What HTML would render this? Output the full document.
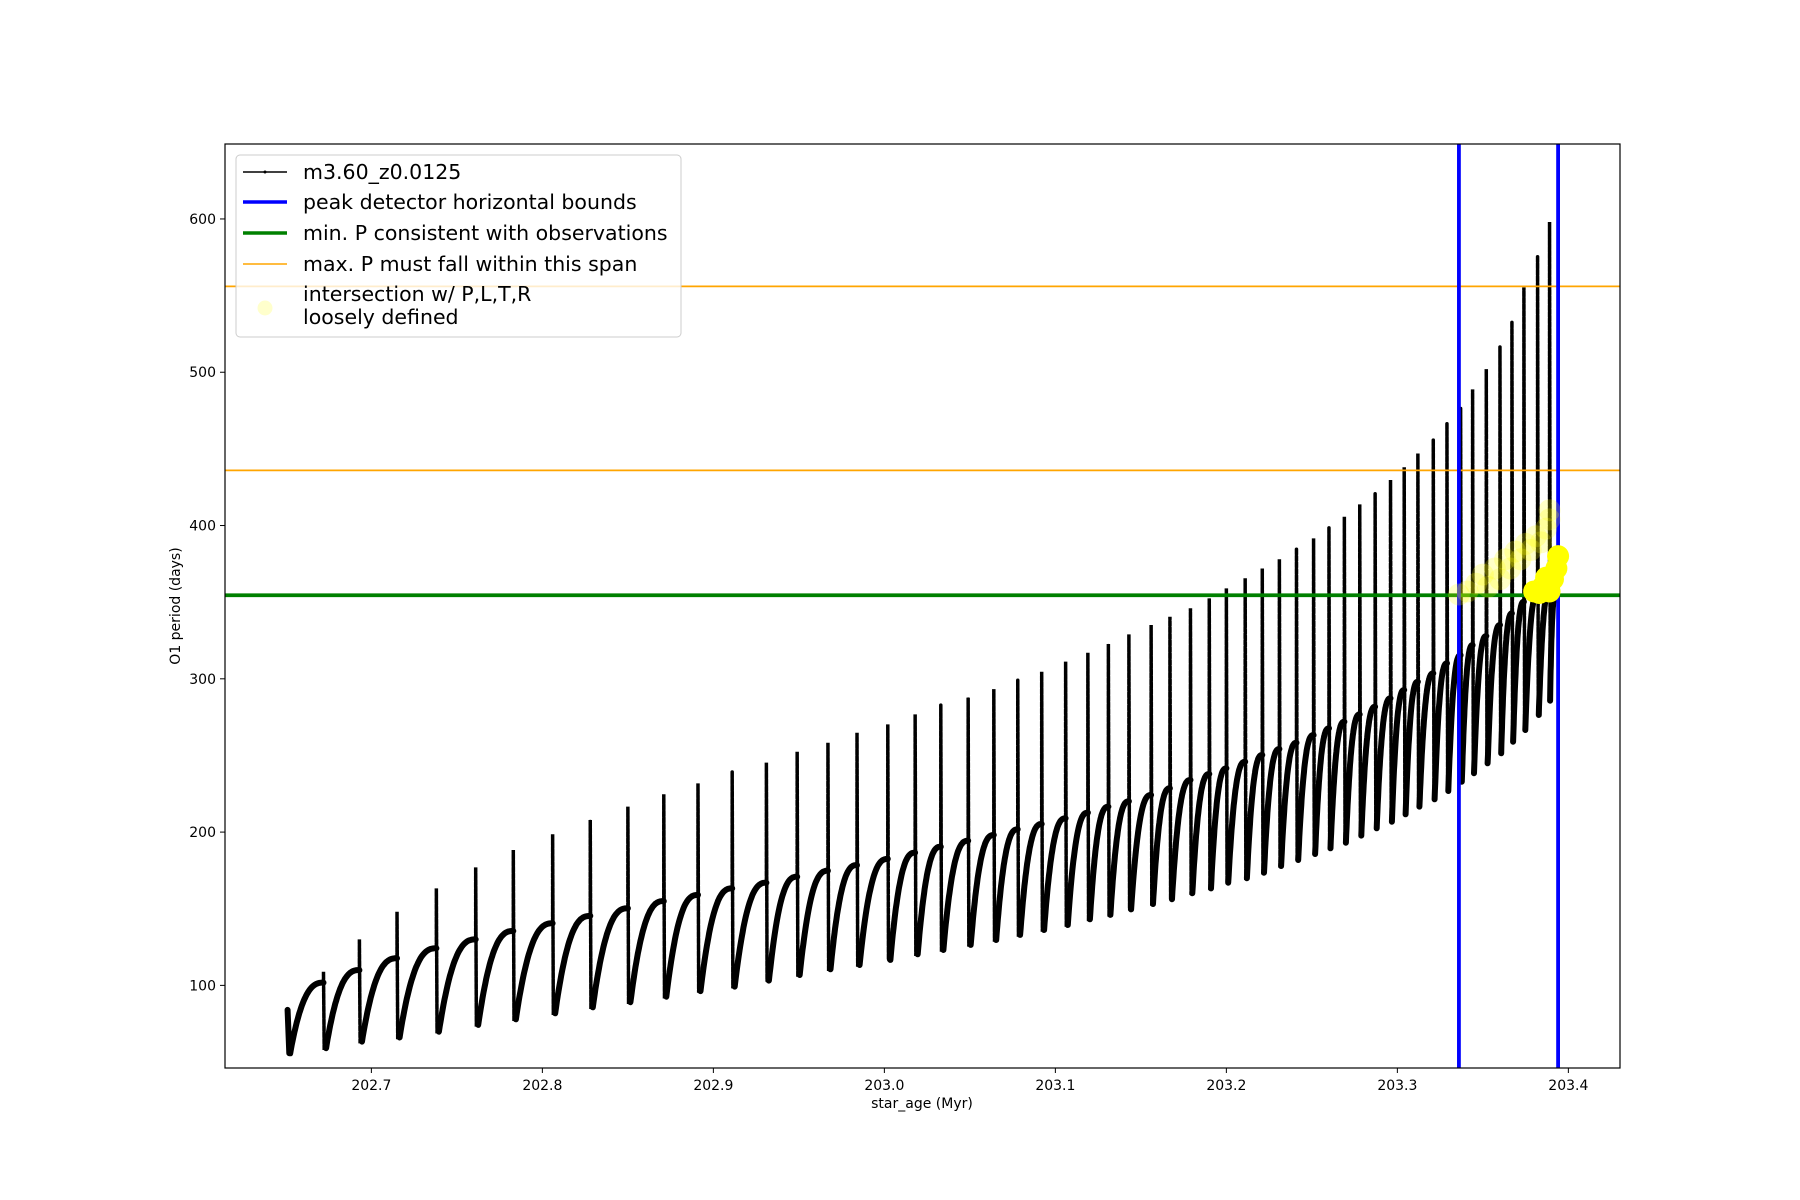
<!DOCTYPE html>
<html><head><meta charset="utf-8"><style>
html,body{margin:0;padding:0;background:#fff;}
svg{display:block;font-family:"DejaVu Sans","Liberation Sans",sans-serif;}
</style></head><body>
<svg id="chart" width="1800" height="1200" viewBox="0 0 1800 1200">
<rect x="0" y="0" width="1800" height="1200" fill="#fff"/>
<g id="plot"></g>
<rect x="225" y="144" width="1395" height="924" fill="none" stroke="#000" stroke-width="1.2"/>
<g id="xticks"></g>
<g id="yticks"></g>
<text x="922" y="1108" font-size="14" text-anchor="middle">star_age (Myr)</text>
<text transform="translate(180,606) rotate(-90)" font-size="14" text-anchor="middle">O1 period (days)</text>
<g>
<rect x="236" y="155" width="445" height="182" rx="4" fill="#fff" fill-opacity="0.8" stroke="#ccc" stroke-width="1"/>
<g><line x1="243" y1="172" x2="287" y2="172" stroke="#000" stroke-width="1.5"/><circle cx="265" cy="172" r="1.5" fill="#000"/><text x="303" y="179" font-size="20.5">m3.60_z0.0125</text></g>
<g><line x1="243" y1="202" x2="287" y2="202" stroke="#0000ff" stroke-width="3.5"/><text x="303" y="209" font-size="20.5">peak detector horizontal bounds</text></g>
<g><line x1="243" y1="233" x2="287" y2="233" stroke="#008000" stroke-width="3.5"/><text x="303" y="240" font-size="20.5">min. P consistent with observations</text></g>
<g><line x1="243" y1="264" x2="287" y2="264" stroke="#ffa500" stroke-width="1.5"/><text x="303" y="271" font-size="20.5">max. P must fall within this span</text></g>
<g><circle cx="265" cy="308" r="7.5" fill="#ffff00" fill-opacity="0.2"/><text x="303" y="301" font-size="20.5">intersection w/ P,L,T,R</text><text x="303" y="324" font-size="20.5">loosely defined</text></g>
</g>
</svg>
<script>
const spikeAge=[202.672,202.693,202.715,202.738,202.761,202.783,202.806,202.828,202.850,202.871,202.891,202.911,202.931,202.949,202.967,202.984,203.002,203.018,203.033,203.049,203.064,203.078,203.092,203.106,203.119,203.131,203.143,203.156,203.167,203.179,203.190,203.200,203.211,203.221,203.231,203.241,203.251,203.260,203.269,203.278,203.287,203.296,203.304,203.312,203.321,203.329,203.337,203.344,203.352,203.360,203.367,203.374,203.382,203.389];
const spikeTop=[108.9,130,148,163.3,177,188.3,198.6,207.9,216.6,224.7,231.8,239.4,245.3,252.4,258.3,264.8,270.3,276.8,282.9,287.7,293.3,299.2,304.6,311.2,317,322.7,329,335.1,340.5,346,352.5,359,365.6,372,378,385,391.6,398.8,405.7,413.8,421,429.7,438,447,456,466.7,476.5,488.8,502,516.6,533,555.4,575.8,598];
const troughVal=[59,63.3,66,69.8,74.2,77.9,81.8,85.7,89,92.6,96.3,99.2,103.1,106.8,110.5,113.3,116.6,120.3,123.1,126.4,129.6,132.9,136.1,139.4,143.1,146,149.6,153.1,156.2,160.1,163.3,167,169.9,173.5,177.9,181.8,185.7,189.4,193.1,197.7,202.5,206.8,211.6,216.6,221.4,226.8,232.9,238.4,244.9,251.4,259,266.6,276.4,285.7];
const plateauVal=[101.8,110,117.7,124.2,130,135.5,140.5,145.3,150.3,155,159,163.3,167,170.9,174.8,178.5,182.5,186.6,190.5,194.4,198.1,201.8,205.3,209,212.7,216.6,220.1,224.2,228.6,234,237.9,241.6,245.9,250.3,254.2,258.3,263.3,267.7,272,276.8,281.8,287.3,292.7,298.1,303.6,310.1,315.5,322,327.9,335.1,342.7,350.3,355.8,358];
const startAge=202.651, startVal=84, startMin=55.7, endAge=203.392, endVal=352;
const hLinesOrange=[556,436];
const hLineGreen=[354.5];
const vLinesBlue=[203.336,203.394];
const faintAge=[203.336,203.341,203.346,203.350,203.353,203.357,203.360,203.363,203.366,203.369,203.372,203.375,203.378,203.381,203.384,203.387,203.389,203.389];
const faintVal=[355,357,362,368,360,372,365,378,372,383,378,388,384,393,389,398,404,410];
const solidAge=[203.380,203.383,203.385,203.387,203.389,203.391,203.393,203.394];
const solidVal=[357,356,360,366,357,365,372,380];
const xTicks=[202.7,202.8,202.9,203.0,203.1,203.2,203.3,203.4];
const yTicks=[100,200,300,400,500,600];

const X0=225,X1=1620,Y0=1068,Y1=144,xmin=202.6144,xmax=203.4302,ymin=46.1,ymax=648.9;
const sx=v=>X0+(v-xmin)/(xmax-xmin)*(X1-X0);
const sy=v=>Y0-(v-ymin)/(ymax-ymin)*(Y0-Y1);
const NS='http://www.w3.org/2000/svg';
function mk(tag,parent,attrs){const e=document.createElementNS(NS,tag);for(const k in attrs)e.setAttribute(k,attrs[k]);parent.appendChild(e);return e;}
const plot=document.getElementById('plot');
const defs=mk('defs',plot,{});
const cp=mk('clipPath',defs,{id:'clip'});
mk('rect',cp,{x:X0,y:Y1,width:X1-X0,height:Y0-Y1});
plot.setAttribute('clip-path','url(#clip)');

function curvePts(t0,v0,t1,v1){const pts=[];const n=40;for(let k=0;k<=n;k++){const f=k/n;const g=1-Math.pow(1-f,2.6);pts.push([sx(t0+(t1-t0)*f),sy(v0+(v1-v0)*g)]);}return pts;}
let d='';
d+='M'+sx(startAge)+','+sy(startVal)+'L'+sx(startAge+0.001)+','+sy(startMin);
curvePts(startAge+0.0015,startMin,spikeAge[0],plateauVal[0]).forEach(p=>d+='L'+p[0].toFixed(1)+','+p[1].toFixed(1));
for(let i=0;i<spikeAge.length;i++){
  const tNext=i+1<spikeAge.length?spikeAge[i+1]:endAge;
  const vNext=i+1<spikeAge.length?plateauVal[i+1]:endVal;
  const tt=spikeAge[i]+Math.min(0.0015,(tNext-spikeAge[i])*0.1);
  d+='M'+sx(tt).toFixed(1)+','+sy(troughVal[i]).toFixed(1);
  curvePts(tt,troughVal[i],tNext,vNext).forEach(p=>d+='L'+p[0].toFixed(1)+','+p[1].toFixed(1));
}
const curve=mk('path',plot,{d:d,fill:'none',stroke:'#000','stroke-width':6,'stroke-linejoin':'round','stroke-linecap':'round'});


for(let i=0;i<spikeAge.length;i++){
  const tNext=i+1<spikeAge.length?spikeAge[i+1]:endAge;
  const tt=spikeAge[i]+Math.min(0.0015,(tNext-spikeAge[i])*0.1);
  const s=mk('path',plot,{d:'M'+sx(spikeAge[i])+','+sy(plateauVal[i])+'L'+sx(spikeAge[i])+','+sy(spikeTop[i])+'L'+sx(spikeAge[i]+0.0004)+','+sy(troughVal[i])+'L'+sx(tt)+','+sy(troughVal[i]),fill:'none',stroke:'#000','stroke-width':3.5,'stroke-linecap':'round','stroke-dasharray':'5 1.5'});
  
  
}
hLinesOrange.forEach(v=>{const l=mk('line',plot,{x1:X0,x2:X1,y1:sy(v),y2:sy(v),stroke:'#ffa500','stroke-width':1.7});

});
hLineGreen.forEach(v=>{const l=mk('line',plot,{x1:X0,x2:X1,y1:sy(v),y2:sy(v),stroke:'#008000','stroke-width':3.8});

});
vLinesBlue.forEach(v=>{const l=mk('line',plot,{x1:sx(v),x2:sx(v),y1:Y1,y2:Y0,stroke:'#0000ff','stroke-width':3.8});

});
for(let i=0;i<faintAge.length;i++){const c=mk('circle',plot,{cx:sx(faintAge[i]),cy:sy(faintVal[i]),r:11,fill:'#ffff00','fill-opacity':0.22});

}
for(let i=0;i<solidAge.length;i++){const c=mk('circle',plot,{cx:sx(solidAge[i]),cy:sy(solidVal[i]),r:11,fill:'#ffff00'});

}
const xg=document.getElementById('xticks');
xTicks.forEach(v=>{const x=sx(v);mk('line',xg,{x1:x,x2:x,y1:Y0,y2:Y0+5,stroke:'#000','stroke-width':1});
const t=mk('text',xg,{x:x,y:Y0+22,'font-size':14,'text-anchor':'middle'});t.textContent=v.toFixed(1);

});
const yg=document.getElementById('yticks');
yTicks.forEach(v=>{const y=sy(v);mk('line',yg,{x1:X0-5,x2:X0,y1:y,y2:y,stroke:'#000','stroke-width':1});
const t=mk('text',yg,{x:X0-9,y:y+5,'font-size':14,'text-anchor':'end'});t.textContent=v;

});
</script>
</body></html>
